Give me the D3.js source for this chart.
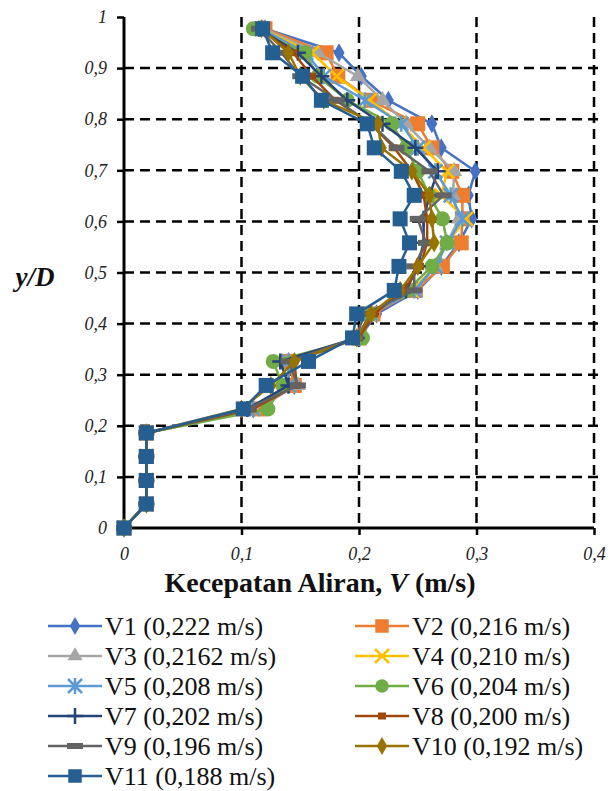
<!DOCTYPE html>
<html><head><meta charset="utf-8">
<script src="https://cdn.jsdelivr.net/npm/d3@7"></script>
<style>body{margin:0;background:#fff}svg{display:block}</style>
</head><body>
<svg id="c" width="611" height="791"></svg>
<script>
// y/D levels (bottom to top)
const yD = [0, 0.047, 0.093, 0.14, 0.186, 0.233, 0.279, 0.326, 0.372, 0.419, 0.465, 0.512, 0.558, 0.605, 0.651, 0.698, 0.744, 0.791, 0.837, 0.884, 0.93, 0.977];
const V1  = [0, 0.019, 0.019, 0.019, 0.019, 0.110, 0.145, 0.140, 0.200, 0.215, 0.250, 0.270, 0.285, 0.296, 0.293, 0.299, 0.270, 0.262, 0.225, 0.202, 0.183, 0.120];
const V2  = [0, 0.019, 0.019, 0.019, 0.019, 0.115, 0.145, 0.140, 0.200, 0.212, 0.248, 0.271, 0.287, 0.288, 0.288, 0.279, 0.262, 0.250, 0.210, 0.182, 0.172, 0.120];
const V3  = [0, 0.019, 0.019, 0.019, 0.019, 0.110, 0.148, 0.140, 0.200, 0.210, 0.248, 0.265, 0.275, 0.285, 0.280, 0.281, 0.260, 0.240, 0.220, 0.199, 0.165, 0.118];
const V4  = [0, 0.019, 0.019, 0.019, 0.019, 0.110, 0.140, 0.140, 0.200, 0.210, 0.245, 0.265, 0.275, 0.291, 0.270, 0.275, 0.255, 0.235, 0.209, 0.181, 0.160, 0.117];
const V5  = [0, 0.019, 0.019, 0.019, 0.019, 0.110, 0.140, 0.140, 0.200, 0.210, 0.247, 0.265, 0.275, 0.288, 0.278, 0.265, 0.250, 0.236, 0.205, 0.170, 0.155, 0.117];
const V6  = [0, 0.019, 0.019, 0.019, 0.019, 0.1225, 0.135, 0.127, 0.203, 0.210, 0.241, 0.262, 0.275, 0.271, 0.260, 0.250, 0.240, 0.228, 0.190, 0.165, 0.154, 0.110];
const V7  = [0, 0.019, 0.019, 0.019, 0.019, 0.105, 0.140, 0.133, 0.198, 0.210, 0.240, 0.250, 0.255, 0.255, 0.260, 0.267, 0.248, 0.220, 0.190, 0.168, 0.148, 0.115];
const V8  = [0, 0.019, 0.019, 0.019, 0.019, 0.1095, 0.147, 0.145, 0.200, 0.213, 0.238, 0.252, 0.258, 0.258, 0.255, 0.245, 0.230, 0.210, 0.180, 0.160, 0.144, 0.115];
const V9  = [0, 0.019, 0.019, 0.019, 0.019, 0.105, 0.148, 0.140, 0.197, 0.205, 0.247, 0.247, 0.257, 0.250, 0.272, 0.260, 0.232, 0.210, 0.181, 0.150, 0.134, 0.115];
const V10 = [0, 0.019, 0.019, 0.019, 0.019, 0.100, 0.125, 0.145, 0.198, 0.210, 0.235, 0.250, 0.264, 0.262, 0.260, 0.245, 0.219, 0.216, 0.170, 0.150, 0.140, 0.117];
const V11 = [0, 0.019, 0.019, 0.019, 0.019, 0.1015, 0.121, 0.157, 0.1945, 0.198, 0.230, 0.234, 0.243, 0.235, 0.247, 0.236, 0.213, 0.207, 0.168, 0.152, 0.1265, 0.118];
const seriesNames = ["V1 (0,222 m/s)", "V2 (0,216 m/s)", "V3 (0,2162 m/s)", "V4 (0,210 m/s)", "V5 (0,208 m/s)", "V6 (0,204 m/s)", "V7 (0,202 m/s)", "V8 (0,200 m/s)", "V9 (0,196 m/s)", "V10 (0,192 m/s)", "V11 (0,188 m/s)"];
const seriesValues = [V1, V2, V3, V4, V5, V6, V7, V8, V9, V10, V11];
const colors = ["#4472C4", "#ED7D31", "#A5A5A5", "#FFC000", "#5B9BD5", "#70AD47", "#264478", "#9E480E", "#636363", "#997300", "#255E91"];
const markers = ["diamond", "square", "triangle", "x", "asterisk", "circle", "plus", "smallsq", "dash", "diamond", "square"];
const xTicks = [0, 0.1, 0.2, 0.3, 0.4];
const yTicks = [0, 0.1, 0.2, 0.3, 0.4, 0.5, 0.6, 0.7, 0.8, 0.9, 1];
const fmt = v => String(v).replace(".", ",");
const SERIF = "'Liberation Serif', 'Times New Roman', serif";

const svg = d3.select("#c");
const L = 124, R = 594, T = 17, B = 528;
const x = d3.scaleLinear().domain([0, 0.4]).range([L, R]);
const y = d3.scaleLinear().domain([0, 1]).range([B, T]);

// grid
const g = svg.append("g");
g.selectAll(".hg").data(yTicks.filter(v => v > 0 && v < 1)).enter().append("line")
  .attr("x1", L).attr("x2", R + 6).attr("y1", d => y(d)).attr("y2", d => y(d))
  .attr("stroke", "#000").attr("stroke-width", 2.5).attr("stroke-dasharray", "10,6");
g.selectAll(".vg").data(xTicks.filter(v => v > 0)).enter().append("line")
  .attr("x1", d => x(d)).attr("x2", d => x(d)).attr("y1", T).attr("y2", B)
  .attr("stroke", "#000").attr("stroke-width", 2.5).attr("stroke-dasharray", "10,6");

// axes
const xAxis = d3.axisBottom(x).tickValues(xTicks).tickSize(7).tickFormat(fmt);
const yAxis = d3.axisLeft(y).tickValues(yTicks).tickSize(7).tickFormat(fmt);
const gx = svg.append("g").attr("transform", `translate(0,${B})`).call(xAxis);
const gy = svg.append("g").attr("transform", `translate(${L},0)`).call(yAxis);
[gx, gy].forEach(a => {
  a.attr("font-family", null).attr("font-size", null);
  a.select(".domain").attr("stroke", "#000").attr("stroke-width", 3);
  a.selectAll(".tick line").attr("stroke", "#000").attr("stroke-width", 2.5);
  a.selectAll("text").style("font-family", SERIF).style("font-style", "italic")
    .style("font-size", "18px").attr("fill", "#222");
});
gx.select(".domain").attr("d", `M${L},0H${R}`);
gy.select(".domain").attr("d", `M0,${B}V${T}`);
gx.selectAll(".tick text").attr("dy", null).attr("y", 32);
gy.selectAll(".tick text").attr("x", -17).attr("dy", "0.32em");

// axis titles
const xt = svg.append("text").attr("x", 320).attr("y", 592).attr("text-anchor", "middle")
  .style("font-family", SERIF).style("font-weight", "bold").style("font-size", "28px").attr("fill", "#111");
xt.append("tspan").text("Kecepatan Aliran, ");
xt.append("tspan").style("font-style", "italic").text("V");
xt.append("tspan").text(" (m/s)");
svg.append("text").attr("x", 35).attr("y", 286).attr("text-anchor", "middle")
  .style("font-family", SERIF).style("font-weight", "bold").style("font-style", "italic")
  .style("font-size", "27px").attr("fill", "#111").text("y/D");

// marker drawing
function drawMarker(sel, type, color, s) {
  s = s || 1;
  if (type === "diamond") sel.append("path").attr("d", d3.symbol(d3.symbolDiamond, 105 * s)()).attr("fill", color);
  else if (type === "square") sel.append("rect").attr("x", -7.5 * s).attr("y", -7.5 * s).attr("width", 15 * s).attr("height", 15 * s).attr("fill", color);
  else if (type === "triangle") sel.append("path").attr("d", d3.symbol(d3.symbolTriangle, 110 * s)()).attr("fill", color);
  else if (type === "circle") sel.append("circle").attr("r", 7.5 * s).attr("fill", color);
  else if (type === "x") sel.append("path").attr("d", `M-7,-7L7,7M-7,7L7,-7`).attr("stroke", color).attr("stroke-width", 2.5);
  else if (type === "asterisk") sel.append("path").attr("d", `M-7,-7L7,7M-7,7L7,-7M0,-8V8`).attr("stroke", color).attr("stroke-width", 2.5);
  else if (type === "plus") sel.append("path").attr("d", `M-8,0H8M0,-8V8`).attr("stroke", color).attr("stroke-width", 2.5);
  else if (type === "smallsq") sel.append("rect").attr("x", -4).attr("y", -3.5).attr("width", 8).attr("height", 7).attr("fill", color);
  else if (type === "dash") sel.append("rect").attr("x", -8).attr("y", -3).attr("width", 16).attr("height", 6).attr("fill", color);
}

// series
const line = d3.line().x(d => x(d[0])).y(d => y(d[1]));
seriesValues.forEach((vals, k) => {
  const pts = vals.map((v, i) => [v, yD[i]]);
  const sg = svg.append("g");
  sg.append("path").attr("d", line(pts)).attr("fill", "none").attr("stroke", colors[k]).attr("stroke-width", 2.5).attr("stroke-linejoin", "round");
  pts.forEach(p => {
    const m = sg.append("g").attr("transform", `translate(${x(p[0])},${y(p[1])})`);
    drawMarker(m, markers[k], colors[k]);
  });
});

// legend
const lg = svg.append("g");
seriesNames.forEach((name, k) => {
  const col = k % 2, row = Math.floor(k / 2);
  const x0 = col === 0 ? 48 : 355;
  const cy = 626 + row * 30;
  lg.append("line").attr("x1", x0).attr("x2", x0 + 54).attr("y1", cy).attr("y2", cy)
    .attr("stroke", colors[k]).attr("stroke-width", 2.5);
  const m = lg.append("g").attr("transform", `translate(${x0 + 27},${cy})`);
  drawMarker(m, markers[k], colors[k], 0.9);
  lg.append("text").attr("x", x0 + 57).attr("y", cy + 9).style("font-family", SERIF)
    .style("font-size", "26px").attr("fill", "#111").text(name);
});
</script>
</body></html>
